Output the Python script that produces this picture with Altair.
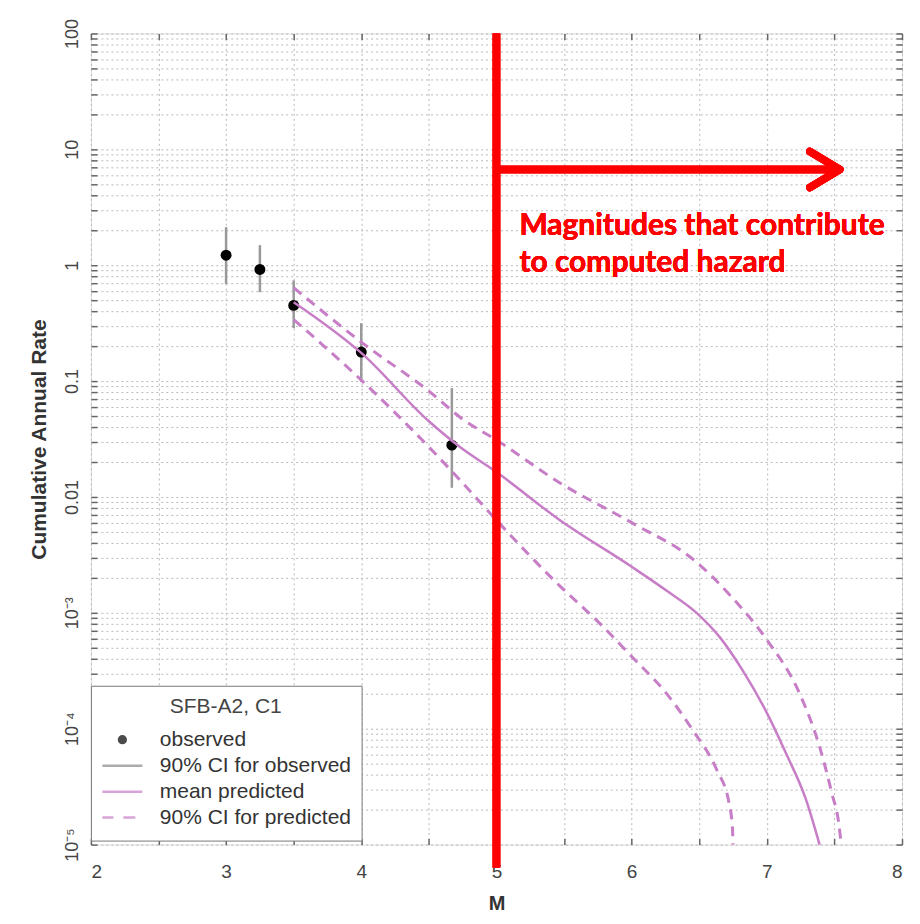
import altair as alt
import pandas as pd

# ---------------- data ----------------
obs_m = [3.0, 3.25, 3.5, 4.0, 4.67]
obs_rate = [1.22, 0.92, 0.45, 0.178, 0.028]
obs_lo = [0.69, 0.585, 0.286, 0.098, 0.012]
obs_hi = [2.13, 1.49, 0.74, 0.316, 0.087]

mean_m = [3.5, 4.0, 4.5, 4.73, 5.0, 5.47, 6.0, 6.26, 6.48, 6.65, 6.82, 7.0, 7.14, 7.29, 7.39]
mean_rate = [0.48, 0.175, 0.045, 0.027, 0.0164, 0.0063, 0.0025, 0.00155, 0.001,
             0.00062, 0.00032, 0.000137, 0.000062, 0.0000244, 0.00001]

upper_m = [3.5, 4.0, 4.5, 4.76, 5.0, 5.47, 6.0, 6.47, 6.74, 7.0, 7.24, 7.39, 7.48, 7.535, 7.55]
upper_rate = [0.64, 0.217, 0.082, 0.046, 0.031, 0.0132, 0.006, 0.0028, 0.00137,
              0.000585, 0.000204, 0.00007, 0.000028, 0.0000144, 0.00001]

lower_m = [3.5, 4.0, 4.5, 4.73, 5.0, 5.47, 5.76, 6.0, 6.26, 6.45, 6.63, 6.72, 6.745, 6.75]
lower_rate = [0.34, 0.102, 0.027, 0.014, 0.0063, 0.0017, 0.00082, 0.00042, 0.0002,
              0.000098, 0.000044, 0.000023, 0.0000143, 0.00001]

legend_labels = ["observed", "90% CI for observed", "mean predicted", "90% CI for predicted"]
legend_title = "SFB-A2, C1"

x_ticks = [2, 2.5, 3, 3.5, 4, 4.5, 5, 5.5, 6, 6.5, 7, 7.5, 8]
y_decades = [1e-5, 1e-4, 1e-3, 1e-2, 1e-1, 1, 10, 100]
y_decade_labels = ["10⁻⁵", "10⁻⁴", "10⁻³", "0.01", "0.1", "1", "10", "100"]
y_minor_mult = [2, 3, 4, 5, 6, 7, 8, 9]

# annotation
cutoff_m = 5.0
arrow_end_m = 7.5
arrow_tip_m = 7.54
arrow_rate = 6.7
note_rate = 1.82
note_lines = ["Magnitudes that contribute", "to computed hazard"]

# ---------------- tables ----------------
obs = pd.DataFrame({"M": obs_m, "rate": obs_rate, "lo": obs_lo, "hi": obs_hi})
mean_df = pd.DataFrame({"M": mean_m, "rate": mean_rate})
ci_df = pd.concat([
    pd.DataFrame({"M": upper_m, "rate": upper_rate, "curve": "upper"}),
    pd.DataFrame({"M": lower_m, "rate": lower_rate, "curve": "lower"}),
])
legend_df = pd.DataFrame({"series": legend_labels})

y_values = []
for d in y_decades[:-1]:
    for k in [1] + y_minor_mult:
        y_values.append(float(f"{k * d:.6g}"))
y_values.append(y_decades[-1])

label_expr = ""
for v, lab in zip(y_decades, y_decade_labels):
    label_expr += f"abs(datum.value - {v!r}) < {v * 1e-6!r} ? '{lab}' : "
label_expr += "''"

FONT = "Liberation Sans"
MAG = "#c77ec7"
RED = "#ff0000"
TICK = "#666666"

xscale = alt.Scale(domain=[2, 8], nice=False, zero=False)
yscale = alt.Scale(type="log", domain=[1e-5, 100], nice=False)

x_axis = alt.Axis(
    orient="bottom", values=x_ticks,
    labelExpr="datum.value % 1 == 0 ? format(datum.value, 'd') : ''",
    title="M", titleFont=FONT, titleFontSize=20, titleFontWeight="bold",
    titleColor="#333", titlePadding=12,
    labelFont=FONT, labelFontSize=19, labelColor="#444", labelPadding=18,
    ticks=False, domain=False, grid=True,
    gridColor="#b8b8b8", gridDash=[2, 3], gridWidth=1,
)
y_axis = alt.Axis(
    orient="left", values=y_values, labelExpr=label_expr,
    title="Cumulative Annual Rate", titleFont=FONT, titleFontSize=21,
    titleFontWeight="bold", titleColor="#333", titlePadding=14,
    labelFont=FONT, labelFontSize=18, labelColor="#444", labelAngle=270,
    labelAlign="center", labelBaseline="bottom", labelPadding=9,
    labelOverlap=False,
    ticks=False, domain=False, grid=True,
    gridColor="#b8b8b8", gridDash=[2, 3], gridWidth=1,
)


def inner_ticks(orient, values, size):
    # tick-only axis pulled inside the frame so the ticks point inward
    return alt.Axis(orient=orient, values=values, offset=-size, tickSize=size,
                    tickColor=TICK, tickWidth=1.5, labels=False, domain=False,
                    grid=False, title=None)


errbars = alt.Chart(obs).mark_rule(color="#999999", strokeWidth=2.5).encode(
    x=alt.X("M:Q", scale=xscale, axis=x_axis),
    y=alt.Y("lo:Q", scale=yscale, axis=y_axis),
    y2="hi:Q",
)
points = alt.Chart(obs).mark_circle(size=120, color="black", opacity=1).encode(
    x=alt.X("M:Q", scale=xscale, axis=inner_ticks("top", x_ticks, 6)),
    y=alt.Y("rate:Q", scale=yscale, axis=inner_ticks("right", y_values, 6)),
)
mean_line = alt.Chart(mean_df).mark_line(
    color=MAG, strokeWidth=2.5, interpolate="monotone"
).encode(
    x=alt.X("M:Q", scale=xscale, axis=inner_ticks("bottom", x_ticks, 6)),
    y=alt.Y("rate:Q", scale=yscale, axis=inner_ticks("left", y_values, 6)),
)
ci_lines = alt.Chart(ci_df).mark_line(
    color=MAG, strokeWidth=3, strokeDash=[10, 7], interpolate="monotone"
).encode(
    x=alt.X("M:Q", scale=xscale, axis=None),
    y=alt.Y("rate:Q", scale=yscale, axis=None),
    detail="curve:N",
)

shape_paths = [
    "M0,-0.17A0.17,0.17 0 1,1 0,0.17A0.17,0.17 0 1,1 0,-0.17"
    "M0,-0.06A0.06,0.06 0 1,1 0,0.06A0.06,0.06 0 1,1 0,-0.06",
    "M-1,0L1,0",
    "M-1,0L1,0",
    "M-1,0L-0.45,0M0.05,0L0.65,0",
]
legend = alt.Legend(
    title=legend_title, orient="none", legendX=0, legendY=653,
    direction="vertical", padding=10, strokeColor="#777777", fillColor="white",
    titleFont=FONT, titleFontSize=21, titleFontWeight="normal", titleColor="#444",
    titleAnchor="middle", titlePadding=10,
    labelFont=FONT, labelFontSize=21, labelColor="#333", labelOffset=16,
    labelLimit=400,
    symbolSize=1600, symbolStrokeWidth=2.5, clipHeight=26, rowPadding=0,
)
legend_layer = alt.Chart(legend_df).mark_point(filled=False, clip=True).encode(
    x=alt.value(-200), y=alt.value(-200),
    color=alt.Color("series:N", scale=alt.Scale(domain=legend_labels,
                    range=["black", "#888888", MAG, MAG]), legend=legend),
    shape=alt.Shape("series:N", scale=alt.Scale(domain=legend_labels, range=shape_paths),
                    legend=legend),
)

vline = alt.Chart(obs).mark_rule(color=RED, strokeWidth=7.5).encode(
    x=alt.X(datum=cutoff_m, scale=xscale, axis=None),
    y=alt.value(0), y2=alt.value(835),
)
hline = alt.Chart(obs).mark_rule(color=RED, strokeWidth=7.5).encode(
    x=alt.X(datum=cutoff_m, scale=xscale, axis=None),
    x2=alt.datum(arrow_end_m),
    y=alt.Y(datum=arrow_rate, scale=yscale, axis=None),
)
head = alt.Chart(obs).mark_point(
    shape="M-1,-0.6L0,0L-1,0.6", filled=False, size=3600, strokeWidth=7.5,
    color=RED, opacity=1, strokeCap="round", strokeJoin="round",
).encode(
    x=alt.X(datum=arrow_tip_m, scale=xscale, axis=None),
    y=alt.Y(datum=arrow_rate, scale=yscale, axis=None),
)
note = alt.Chart(obs).mark_text(
    text=note_lines, align="left", baseline="alphabetic", dx=23,
    font="Lato", fontWeight="bold", fontSize=30, color=RED, lineHeight=37,
).encode(
    x=alt.X(datum=cutoff_m, scale=xscale, axis=None),
    y=alt.Y(datum=note_rate, scale=yscale, axis=None),
)

chart = alt.layer(
    errbars, points, mean_line, ci_lines, legend_layer, vline, hline, head, note
).resolve_axis(
    x="independent", y="independent"
).properties(
    width=812, height=812,
    padding={"left": 83, "top": 25, "right": 10, "bottom": 75},
    autosize=alt.AutoSizeParams(type="none"),
).configure_view(
    stroke="#888888", strokeWidth=1.5
).configure(background="white")

chart.save("out.html", embed_options={"renderer": "svg", "actions": False})
